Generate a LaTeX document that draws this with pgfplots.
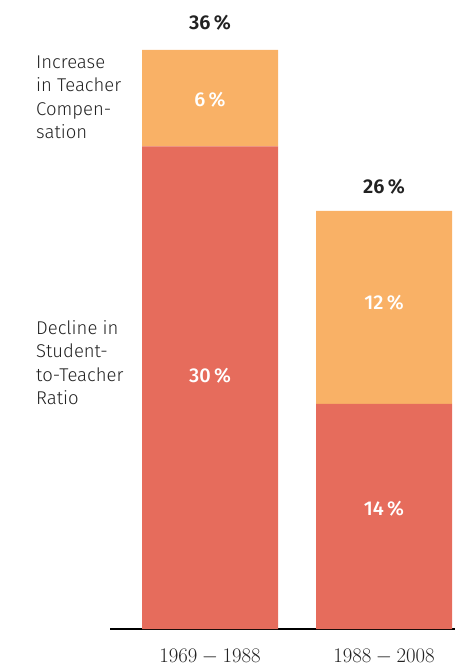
\documentclass[border=0pt]{standalone}
\usepackage{fontspec}
\setmainfont{Fira Sans Light}[BoldFont={Fira Sans SemiBold}]
\newfontfamily\regfont{Fira Sans Medium}
\usepackage{pgfplots}
\pgfplotsset{compat=1.18}
\definecolor{orng}{HTML}{F9B166}
\definecolor{rd}{HTML}{E66C5C}
\definecolor{txt}{HTML}{222222}
\begin{document}
\begin{tikzpicture}[x=1pt,y=1pt]
\path[use as bounding box] (0,0) rectangle (455,670);
\begin{axis}[at={(110pt,41pt)}, anchor=south west, scale only axis,
  width=345pt, height=579pt, xmin=0, xmax=345, ymin=0, ymax=36,
  ybar stacked, bar width=136pt,
  axis y line=none, axis x line*=bottom,
  x axis line style={line width=2pt, black},
  xtick={100,274}, xticklabels={$1969 - 1988$, $1988 - 2008$},
  major tick length=0pt, ytick=\empty,
  xticklabel style={anchor=center, yshift=-28pt, font=\fontsize{20}{24}\selectfont, text=txt},
  clip=false]
\addplot[fill=rd, draw=none] coordinates {(100,30) (274,14)};
\addplot[fill=orng, draw=none] coordinates {(100,6) (274,12)};
\coordinate (t1) at (axis cs:100,37.7);
\coordinate (t2) at (axis cs:274,27.5);
\coordinate (a1) at (axis cs:100,32.9);
\coordinate (b1) at (axis cs:100,15.73);
\coordinate (a2) at (axis cs:274,20.27);
\coordinate (b2) at (axis cs:274,7.46);
\end{axis}
\node[font=\fontsize{20}{22}\selectfont\bfseries, text=txt] at (t1) {36\,\%};
\node[font=\fontsize{20}{22}\selectfont\bfseries, text=txt] at (t2) {26\,\%};
\node[font=\fontsize{20}{22}\selectfont\regfont, text=white] at (a1) {6\,\%};
\node[font=\fontsize{20}{22}\selectfont\regfont, text=white] at (b1) {30\,\%};
\node[font=\fontsize{20}{22}\selectfont\regfont, text=white] at (a2) {12\,\%};
\node[font=\fontsize{20}{22}\selectfont\regfont, text=white] at (b2) {14\,\%};
\node[anchor=west, align=left, inner sep=0pt, font=\fontsize{18.5}{23.5}\selectfont, text=txt] at (36,572.5) {Increase\\in Teacher\\Compen-\\sation};
\node[anchor=west, align=left, inner sep=0pt, font=\fontsize{18.5}{23.5}\selectfont, text=txt] at (36,307.5) {Decline in\\Student-\\to-Teacher\\Ratio};
\end{tikzpicture}
\end{document}
